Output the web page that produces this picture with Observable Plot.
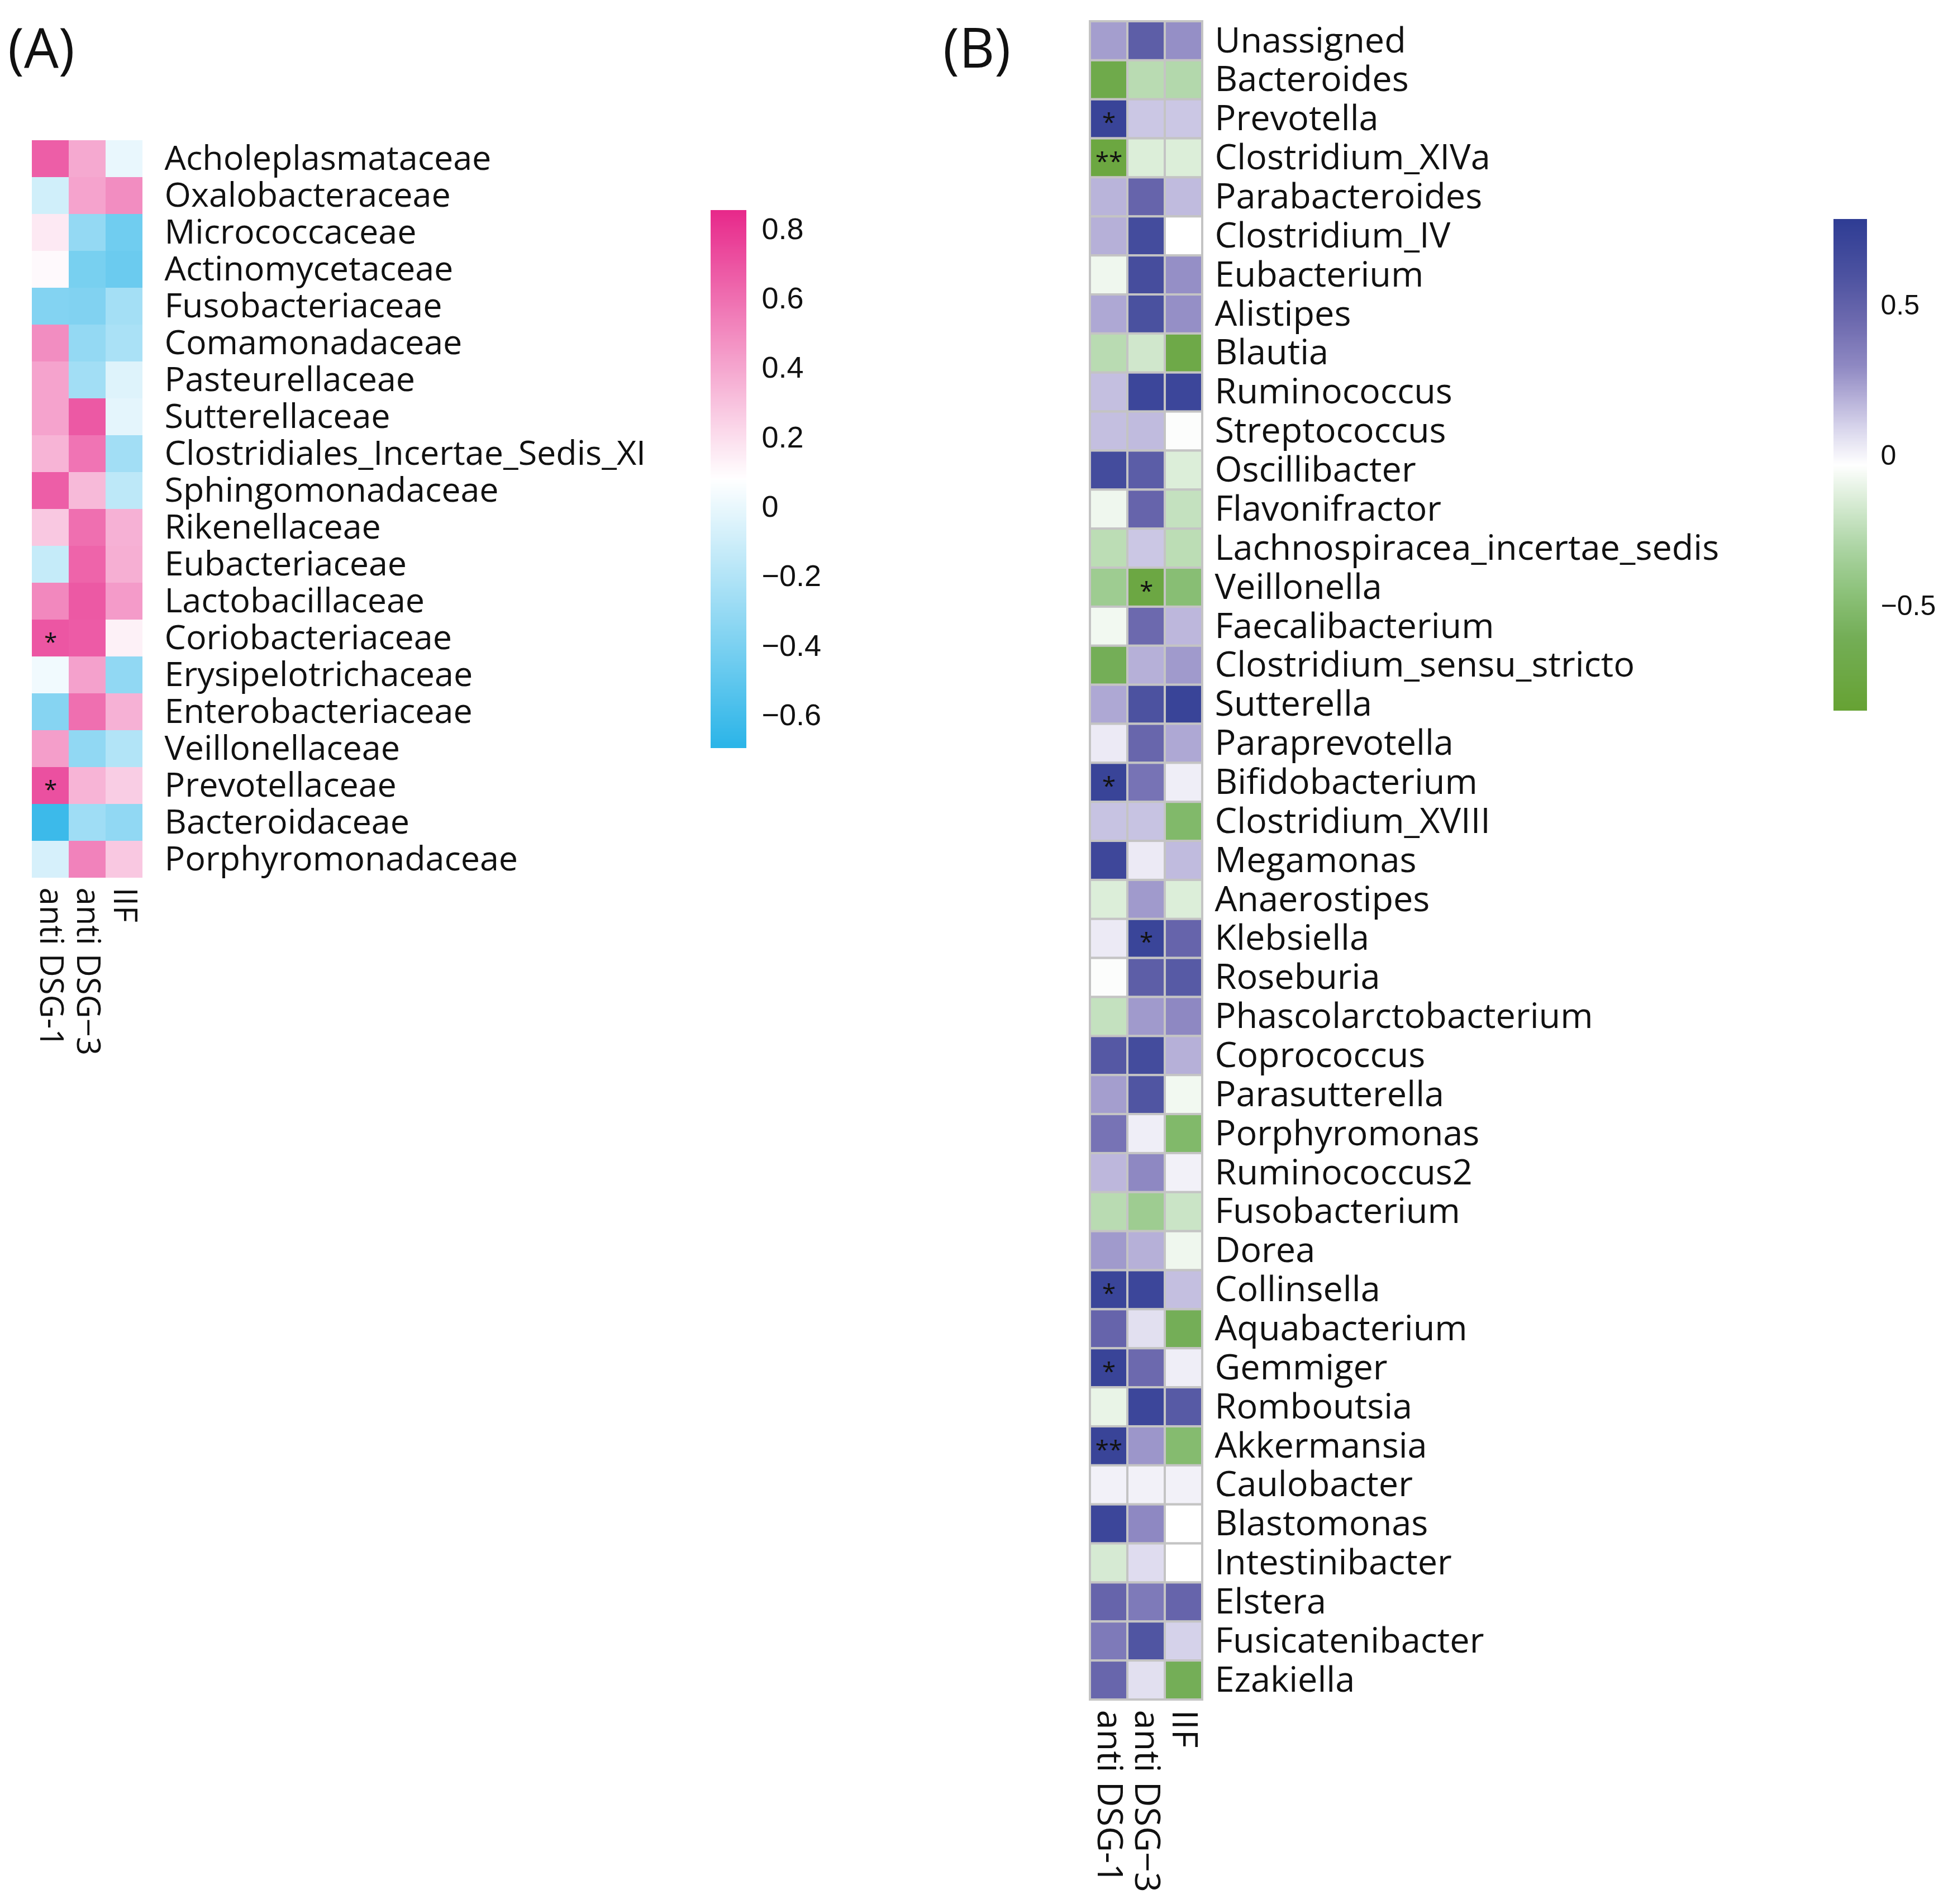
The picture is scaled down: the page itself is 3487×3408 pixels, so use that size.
<!DOCTYPE html>
<html>
<head>
<meta charset="utf-8">
<script src="https://cdn.jsdelivr.net/npm/d3@7"></script>
<script src="https://cdn.jsdelivr.net/npm/@observablehq/plot@0.6"></script>
<style>
  html, body { margin: 0; padding: 0; background: #fff; }
  #wrap { position: relative; width: 3487px; height: 3408px; background: #fff; overflow: hidden; }
  #wrap > svg, #wrap > div { position: absolute; }
  .panel { position: absolute; font-family: "Open Sans", sans-serif; font-size: 98px; color: #111; line-height: 1; }
</style>
</head>
<body>
<div id="wrap"></div>
<script>
// ---------------- Panel A data ----------------
const colsA = ["anti DSG-1", "anti DSG−3", "IIF"];
const rowsA = ["Acholeplasmataceae","Oxalobacteraceae","Micrococcaceae","Actinomycetaceae","Fusobacteriaceae",
  "Comamonadaceae","Pasteurellaceae","Sutterellaceae","Clostridiales_Incertae_Sedis_XI","Sphingomonadaceae",
  "Rikenellaceae","Eubacteriaceae","Lactobacillaceae","Coriobacteriaceae","Erysipelotrichaceae",
  "Enterobacteriaceae","Veillonellaceae","Prevotellaceae","Bacteroidaceae","Porphyromonadaceae"];
const dsg1A = [0.66,-0.09,0.16,0.10,-0.37,0.49,0.41,0.41,0.35,0.66,0.28,-0.13,0.51,0.69,0.03,-0.36,0.43,0.71,-0.63,-0.07];
const dsg3A = [0.39,0.41,-0.31,-0.41,-0.38,-0.31,-0.26,0.68,0.58,0.33,0.60,0.64,0.68,0.67,0.42,0.60,-0.32,0.35,-0.27,0.53];
const iifA  = [0.00,0.49,-0.44,-0.46,-0.25,-0.23,-0.04,-0.02,-0.26,-0.16,0.36,0.37,0.44,0.13,-0.32,0.36,-0.20,0.26,-0.32,0.28];
const sigA = [["Coriobacteriaceae","anti DSG-1","*"],["Prevotellaceae","anti DSG-1","*"]];
const ticksA = [0.8,0.6,0.4,0.2,0,-0.2,-0.4,-0.6];
const domainA = [-0.695, 0.855];

// ---------------- Panel B data ----------------
const colsB = ["anti DSG-1", "anti DSG−3", "IIF"];
const rowsB = ["Unassigned","Bacteroides","Prevotella","Clostridium_XIVa","Parabacteroides","Clostridium_IV",
  "Eubacterium","Alistipes","Blautia","Ruminococcus","Streptococcus","Oscillibacter","Flavonifractor",
  "Lachnospiracea_incertae_sedis","Veillonella","Faecalibacterium","Clostridium_sensu_stricto","Sutterella",
  "Paraprevotella","Bifidobacterium","Clostridium_XVIII","Megamonas","Anaerostipes","Klebsiella","Roseburia",
  "Phascolarctobacterium","Coprococcus","Parasutterella","Porphyromonas","Ruminococcus2","Fusobacterium",
  "Dorea","Collinsella","Aquabacterium","Gemmiger","Romboutsia","Akkermansia","Caulobacter","Blastomonas",
  "Intestinibacter","Elstera","Fusicatenibacter","Ezakiella"];
const dsg1B = [0.24,-0.68,0.72,-0.75,0.18,0.19,-0.08,0.21,-0.26,0.15,0.15,0.65,-0.08,-0.25,-0.37,-0.07,-0.60,0.21,
  0.03,0.72,0.14,0.69,-0.14,0.03,-0.04,-0.22,0.56,0.24,0.40,0.17,-0.26,0.25,0.71,0.48,0.72,-0.10,0.72,0.01,0.70,
  -0.16,0.48,0.37,0.47];
const dsg3B = [0.52,-0.26,0.13,-0.14,0.48,0.65,0.64,0.61,-0.18,0.70,0.16,0.53,0.48,0.13,-0.74,0.45,0.19,0.60,
  0.47,0.40,0.14,0.03,0.25,0.71,0.52,0.25,0.65,0.58,0.02,0.30,-0.37,0.19,0.70,0.06,0.45,0.70,0.26,0.01,0.30,
  0.07,0.37,0.58,0.06];
const iifB  = [0.28,-0.28,0.13,-0.14,0.16,-0.03,0.28,0.28,-0.70,0.70,-0.04,-0.14,-0.22,-0.25,-0.48,0.17,0.25,0.72,
  0.21,0.02,-0.52,0.16,-0.14,0.48,0.55,0.30,0.19,-0.07,-0.52,0.01,-0.20,-0.08,0.15,-0.60,0.02,0.55,-0.50,0.01,
  -0.03,-0.03,0.48,0.10,-0.60];
const sigB = [["Prevotella","anti DSG-1","*"],["Clostridium_XIVa","anti DSG-1","**"],["Veillonella","anti DSG−3","*"],
  ["Bifidobacterium","anti DSG-1","*"],["Klebsiella","anti DSG−3","*"],["Collinsella","anti DSG-1","*"],
  ["Gemmiger","anti DSG-1","*"],["Akkermansia","anti DSG-1","**"]];
const ticksB = [0.5, 0, -0.5];
const domainB = [-0.848, 0.787];

// ---------------- colour scales ----------------
const colorA = {type: "linear", domain: [domainA[0], (domainA[0]+domainA[1])/2, domainA[1]],
  range: ["#2AB4E8", "#FFFFFF", "#E7288A"], interpolate: "rgb", clamp: true};
const stopsB = [-0.848,-0.6,-0.45,-0.3,-0.15,(domainB[0]+domainB[1])/2,0.1,0.2,0.3,0.45,0.6,0.787];
const colsStopB = ["#66A233","#74AE57","#8DC27B","#ADD5A5","#D9ECD6","#FFFFFF","#D5D2EA","#B2ACD6","#8E88C2","#6C69AE","#4C52A0","#2E3C94"];
const colorB = {type: "linear", domain: stopsB, range: colsStopB, interpolate: "rgb", clamp: true};

function table(rows, cols, series) {
  const out = [];
  rows.forEach((r, i) => cols.forEach((c, j) => out.push({row: r, col: c, value: series[j][i]})));
  return out;
}
const fmt = d => d === 0 ? "0" : d3.format(".1f")(d);

const wrap = document.getElementById("wrap");
function place(el, left, top) { el.style.left = left + "px"; el.style.top = top + "px"; wrap.appendChild(el); }

// ---------------- Panel A heatmap ----------------
const dataA = table(rowsA, colsA, [dsg1A, dsg3A, iifA]);
const plotA = Plot.plot({
  width: 1220, height: 1920,
  marginLeft: 56, marginRight: 964, marginTop: 247, marginBottom: 346,
  style: {background: "transparent", fontFamily: "Open Sans", fontSize: "61px", color: "#111", maxWidth: "none"},
  x: {domain: colsA, padding: 0, label: null},
  y: {domain: rowsA, padding: 0, label: null},
  color: colorA,
  marks: [
    Plot.cell(dataA, {x: "col", y: "row", fill: "value", shapeRendering: "crispEdges"}),
    Plot.text(sigA, {x: d => d[1], y: d => d[0], text: d => d[2], fontSize: 42, dy: 8, fill: "#111"}),
    Plot.axisY({anchor: "right", tickSize: 0, tickPadding: 38, label: null}),
    Plot.axisX({anchor: "bottom", tickRotate: 90, tickSize: 0, tickPadding: 14, fontSize: 58, label: null})
  ]
});
place(plotA, 0, 0);

// ---------------- Legend A ----------------
function legendBands(domain, n) {
  const step = (domain[1] - domain[0]) / n;
  return d3.range(n).map(i => ({y1: domain[0] + i*step, y2: domain[0] + (i+1)*step, v: domain[0] + (i+0.5)*step}));
}
const legA = Plot.plot({
  width: 300, height: 1400,
  marginLeft: 0, marginRight: 236, marginTop: 376, marginBottom: 61,
  style: {background: "transparent", fontFamily: "Liberation Sans", fontSize: "54px", color: "#111", maxWidth: "none"},
  x: {domain: [0, 1], axis: null},
  y: {domain: domainA, axis: "right", ticks: ticksA, tickFormat: fmt, tickSize: 0, tickPadding: 27, label: null},
  color: colorA,
  marks: [
    Plot.rect(legendBands(domainA, 400), {x1: 0, x2: 1, y1: "y1", y2: "y2", fill: "v", shapeRendering: "crispEdges"})
  ]
});
place(legA, 1272, 0);

// ---------------- Panel B heatmap ----------------
const dataB = table(rowsB, colsB, [dsg1B, dsg3B, iifB]);
const plotB = Plot.plot({
  width: 1380, height: 3408,
  marginLeft: 150, marginRight: 1027, marginTop: 38, marginBottom: 366,
  style: {background: "transparent", fontFamily: "Open Sans", fontSize: "63px", color: "#111", maxWidth: "none"},
  x: {domain: colsB, padding: 0, tickRotate: 90, tickSize: 0, tickPadding: 18, label: null},
  y: {domain: rowsB, padding: 0, axis: "right", tickSize: 0, tickPadding: 21, label: null},
  color: colorB,
  marks: [
    Plot.cell(dataB, {x: "col", y: "row", fill: "value", stroke: "#c4c4c4", strokeWidth: 4}),
    Plot.text(sigB, {x: d => d[1], y: d => d[0], text: d => d[2], fontSize: 44, dy: 7, fill: "#111"})
  ]
});
place(plotB, 1800, 0);

// ---------------- Legend B ----------------
const legB = Plot.plot({
  width: 205, height: 1320,
  marginLeft: 0, marginRight: 145, marginTop: 392, marginBottom: 48,
  style: {background: "transparent", fontFamily: "Liberation Sans", fontSize: "50px", color: "#111", maxWidth: "none"},
  x: {domain: [0, 1], axis: null},
  y: {domain: domainB, axis: "right", ticks: ticksB, tickFormat: fmt, tickSize: 0, tickPadding: 24, label: null},
  color: colorB,
  marks: [
    Plot.rect(legendBands(domainB, 400), {x1: 0, x2: 1, y1: "y1", y2: "y2", fill: "v", shapeRendering: "crispEdges"})
  ]
});
place(legB, 3282, 0);

// ---------------- Panel letters ----------------
function letter(txt, left, top) {
  const d = document.createElement("div");
  d.className = "panel";
  d.textContent = txt;
  place(d, left, top);
}
letter("(A)", 14, 34);
letter("(B)", 1688, 34);
</script>
</body>
</html>
